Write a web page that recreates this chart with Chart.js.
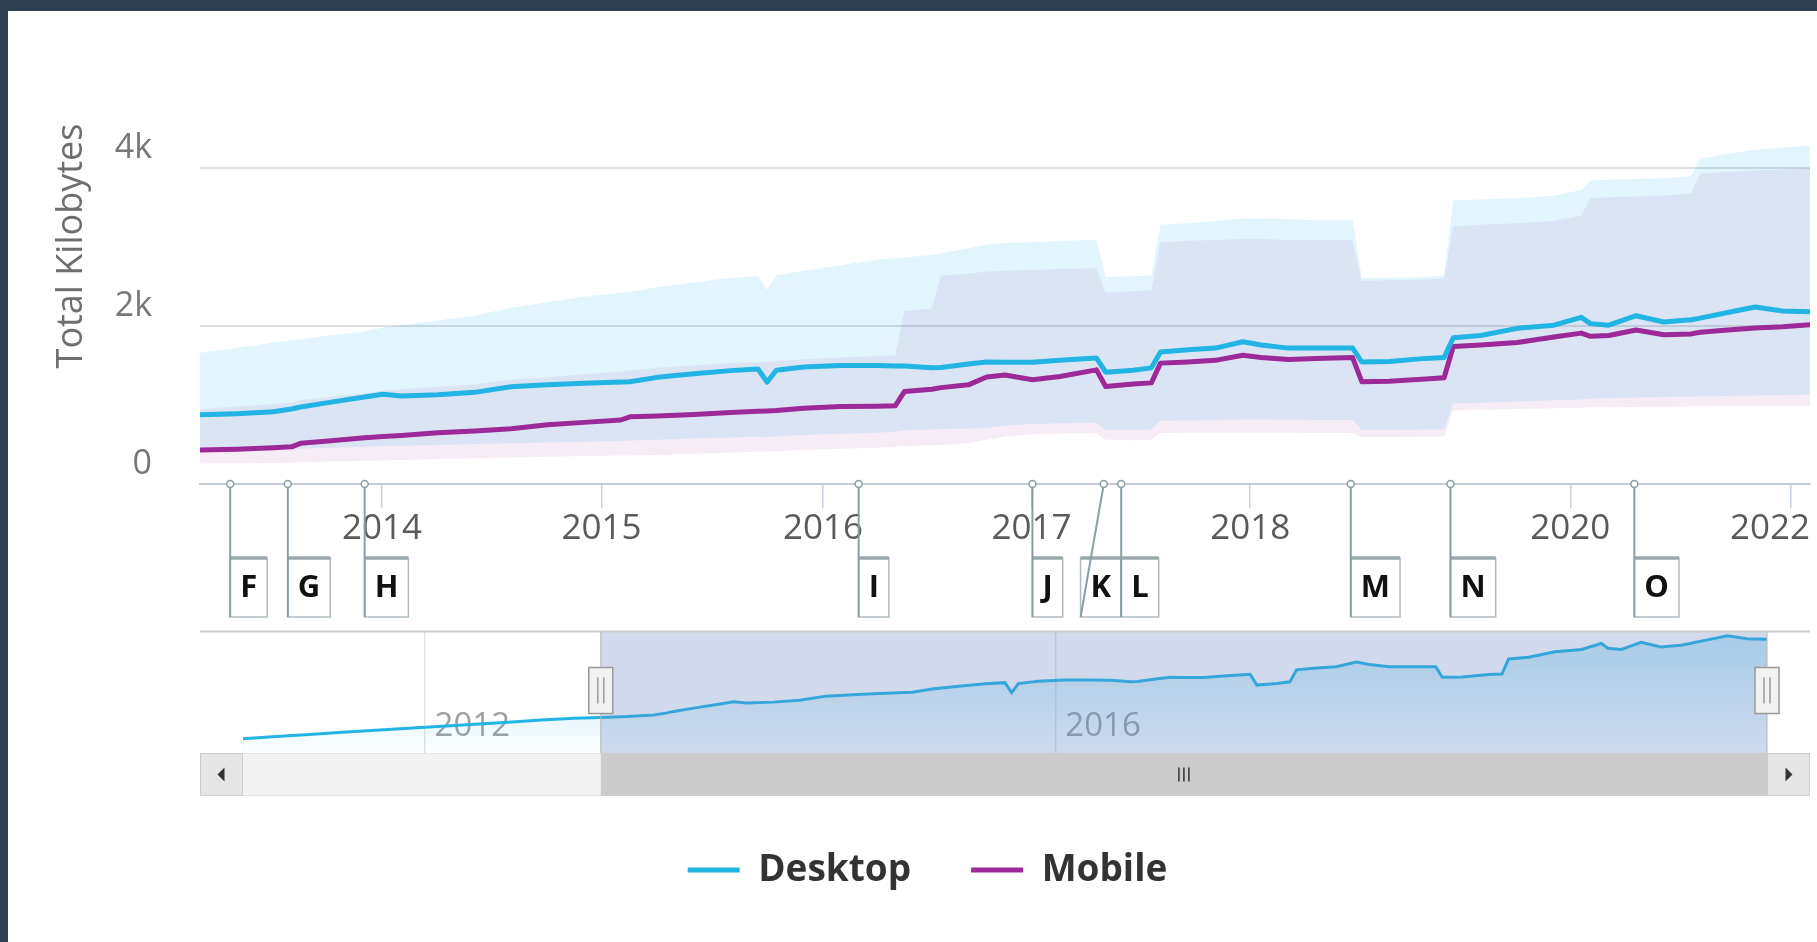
<!DOCTYPE html>
<html><head><meta charset="utf-8">
<script src="https://cdn.jsdelivr.net/npm/chart.js@4.4.1/dist/chart.umd.min.js"></script>
<style>
html,body{margin:0;padding:0;width:1817px;height:942px;overflow:hidden;background:#fff;}
#barTop{position:absolute;left:0;top:0;width:1817px;height:11px;background:#2d3e50;}
#barLeft{position:absolute;left:0;top:0;width:8px;height:942px;background:#2d3e50;}
#main{position:absolute;left:0;top:0;width:1817px;height:942px;}
#nav{position:absolute;left:0;top:620px;width:1817px;height:190px;}
</style></head><body>
<div id="barTop"></div><div id="barLeft"></div>
<canvas id="main" width="1817" height="942"></canvas>
<canvas id="nav" width="1817" height="190"></canvas>
<script>
// ---- data (x = crawl index on the ordinal time axis) ----
const crawlIdx = [0,5,10,15,20,25,30,35,40,45,50,
  54,58,62,64,65,68,72,74,76,80,84,88,92,96,100,101,104,108,112,115,116,117,120,124,128,130,131,134,135,138,
  140,142,145,148,152,153,156,158,159,162,165,168,170,173,176,180,181,184,188,190,191,194,198,202,205,206,208,
  211,214,217,218,221,224,227,230];
const N0 = [null,null,null,null,null,null,null,null,null,null,null];
const desktop = [520,555,590,625,660,695,725,760,795,830,860,
  875,890,915,950,975,1030,1100,1135,1115,1130,1160,1230,1255,1275,1290,1295,1350,1395,1435,1455,1290,1440,1480,1500,1500,1495,1495,1470,1475,1520,
  1545,1540,1540,1565,1595,1415,1440,1470,1670,1700,1720,1800,1760,1720,1720,1720,1545,1550,1590,1600,1850,1880,1970,2010,2110,2030,2010,
  2130,2050,2080,2100,2170,2240,2190,2180];
const mobile = N0.concat([
  430,440,460,470,515,545,585,600,615,650,670,700,750,780,810,850,860,880,905,920,925,930,960,980,985,990,1170,1200,1220,1255,
  1355,1380,1320,1360,1445,1235,1265,1280,1530,1545,1565,1630,1600,1575,1590,1600,1295,1300,1330,1345,1740,1760,1790,1860,1910,1870,1880,
  1950,1890,1900,1920,1950,1975,1990,2015]);
const desktopHigh = N0.concat([
  1660,1720,1790,1820,1830,1880,1930,1980,2010,2070,2130,2230,2300,2370,2420,2430,2490,2550,2610,2630,2460,2640,2700,2770,2840,2860,2870,2900,2920,2980,
  3030,3050,3060,3080,3090,2620,2630,2640,3280,3300,3330,3360,3360,3350,3340,3340,2610,2610,2620,2640,3590,3600,3620,3650,3720,3840,3850,
  3860,3870,3900,4120,4180,4230,4260,4280]);
const desktopLow = N0.concat([
  420,425,430,440,445,460,470,480,485,495,505,515,525,535,545,550,560,575,590,600,590,605,620,635,650,660,680,690,695,700,
  710,740,760,770,775,685,685,690,800,805,810,815,815,812,810,810,685,685,690,690,1020,1030,1045,1060,1070,1080,1085,
  1095,1100,1105,1110,1115,1120,1125,1130]);
const mobileHigh = N0.concat([
  950,980,1010,1030,1060,1100,1150,1180,1200,1230,1260,1320,1350,1390,1420,1440,1470,1500,1530,1545,1550,1555,1580,1600,1620,1630,2190,2220,2640,2660,
  2690,2700,2710,2720,2730,2420,2440,2450,3060,3080,3090,3100,3100,3090,3090,3090,2570,2580,2590,2600,3260,3280,3300,3330,3400,3620,3630,
  3640,3650,3680,3930,3950,3970,3980,4000]);
const mobileLow = N0.concat([
  260,262,265,270,275,285,295,300,305,315,325,335,345,355,360,362,367,380,400,410,410,415,430,445,460,470,480,490,495,520,
  560,600,630,640,645,560,555,560,645,648,650,650,650,648,645,645,595,595,597,600,935,940,950,960,965,970,972,
  975,978,980,982,985,985,985,985]);

const viewRange = [54, 230];
const yearTickIdx = [73.9, 97.9, 122.1, 144.9, 168.8, 203.8, 227.9];
const yearTickLabels = ['2014','2015','2016','2017','2018','2020','2022'];
const yTickVals = [0, 2000, 4000];
const yTickLabels = ['0','2k','4k'];
const navTickIdx = [27.4, 122.6];
const navTickLabels = ['2012','2016'];
const flagIdx = [57.3, 63.6, 72.0, 126.0, 145.0, 152.8, 154.7, 179.8, 190.7, 210.8];
const flagLabels = ['F','G','H','I','J','K','L','M','N','O'];
const seriesNames = ['Desktop','Mobile'];

// ---- styles ----
const C_DESK = '#22b5e4';
const C_MOB = '#9c2997';
Chart.defaults.font.family = "'Open Sans', sans-serif";

const pts = arr => crawlIdx.map((x, i) => ({x, y: arr[i]}));

const flagPlugin = {
  id: 'flags',
  afterDatasetsDraw(chart) {
    const {ctx, chartArea, scales: {x}} = chart;
    const base = chartArea.bottom;
    ctx.save();
    ctx.font = "bold 31px 'Open Sans', sans-serif";
    const boxes = flagIdx.map((v, i) => {
      const ax = x.getPixelForValue(v);
      const w = ctx.measureText(flagLabels[i]).width + 20;
      return {ax, left: ax, w, t: flagLabels[i]};
    });
    for (let i = boxes.length - 2; i >= 0; i--) {
      if (boxes[i].left + boxes[i].w > boxes[i + 1].left) boxes[i].left = boxes[i + 1].left - boxes[i].w;
    }
    const top = base + 74, bot = base + 133;
    boxes.forEach(b => {
      ctx.fillStyle = '#fff';
      ctx.fillRect(b.left, top, b.w, bot - top);
      ctx.strokeStyle = '#aebbc0'; ctx.lineWidth = 1.5;
      ctx.strokeRect(b.left, top, b.w, bot - top);
      ctx.strokeStyle = '#9aa8ad'; ctx.lineWidth = 3.5;
      ctx.beginPath(); ctx.moveTo(b.left, top); ctx.lineTo(b.left + b.w, top); ctx.stroke();
      ctx.strokeStyle = '#8a9ea6'; ctx.lineWidth = 2;
      ctx.beginPath(); ctx.moveTo(b.ax, base); ctx.lineTo(b.left, bot); ctx.stroke();
      ctx.fillStyle = '#111'; ctx.textAlign = 'center'; ctx.textBaseline = 'middle';
      ctx.fillText(b.t, b.left + b.w / 2, (top + bot) / 2 + 1);
      ctx.beginPath(); ctx.arc(b.ax, base, 3.5, 0, Math.PI * 2);
      ctx.fillStyle = '#fff'; ctx.fill();
      ctx.strokeStyle = '#8a9ea6'; ctx.lineWidth = 1.5; ctx.stroke();
    });
    ctx.restore();
  }
};

// keep edge tick labels inside the plot (label overflow justify)
const justifyPlugin = {
  id: 'justify',
  beforeDraw(chart) {
    const s = chart.scales.x;
    const items = s.getLabelItems(chart.chartArea);
    const ctx = chart.ctx;
    ctx.save();
    items.forEach(it => {
      ctx.font = it.font.string;
      const w = ctx.measureText(it.label).width;
      const t = it.options.translation;
      if (it.options.textAlign === 'center' && t[0] + w / 2 > chart.chartArea.right) t[0] = chart.chartArea.right - w / 2;
    });
    ctx.restore();
  }
};

new Chart(document.getElementById('main'), {
  type: 'line',
  data: {
    datasets: [
      {label: seriesNames[0], data: pts(desktop), borderColor: C_DESK, backgroundColor: C_DESK, borderWidth: 5, pointRadius: 0, fill: false, borderJoinStyle: 'round'},
      {label: seriesNames[1], data: pts(mobile), borderColor: C_MOB, backgroundColor: C_MOB, borderWidth: 5, pointRadius: 0, fill: false, borderJoinStyle: 'round'},
      {label: 'Desktop range', data: pts(desktopHigh), borderWidth: 0, pointRadius: 0, fill: '+1', backgroundColor: 'rgba(34,181,228,0.13)'},
      {label: 'Desktop low', data: pts(desktopLow), borderWidth: 0, pointRadius: 0, fill: false},
      {label: 'Mobile range', data: pts(mobileHigh), borderWidth: 0, pointRadius: 0, fill: '+1', backgroundColor: 'rgba(156,41,151,0.09)'},
      {label: 'Mobile low', data: pts(mobileLow), borderWidth: 0, pointRadius: 0, fill: false}
    ]
  },
  options: {
    responsive: false, animation: false,
    layout: {padding: {top: 8, right: 7, bottom: 43.5, left: 45}},
    plugins: {
      tooltip: {enabled: false},
      legend: {
        position: 'bottom',
        labels: {
          boxWidth: 52, boxHeight: 5, padding: 60, color: '#333',
          font: {size: 37, weight: 'bold'},
          generateLabels(chart) {
            const items = Chart.defaults.plugins.legend.labels.generateLabels(chart);
            items.forEach(it => { it.lineWidth = 0; });
            return items;
          },
          filter: item => item.datasetIndex < 2
        }
      }
    },
    scales: {
      x: {
        type: 'linear', min: viewRange[0], max: viewRange[1],
        afterBuildTicks: s => { s.ticks = yearTickIdx.map(v => ({value: v})); },
        afterFit: s => { s.height = 307.5; s.paddingLeft = 0; s.paddingRight = 0; },
        grid: {drawOnChartArea: false, drawTicks: true, tickLength: 24, color: '#c9d3df', lineWidth: 1.5},
        border: {display: true, color: '#c4ccd6', width: 2},
        ticks: {autoSkip: false, maxRotation: 0, padding: 0, color: '#5a5a5a', font: {size: 35},
          callback: (v, i) => yearTickLabels[i]}
      },
      y: {
        min: 0, max: 6025,
        afterBuildTicks: s => { s.ticks = yTickVals.map(v => ({value: v})); },
        afterFit: s => { s.width = 155; s.paddingTop = 0; s.paddingBottom = 0; },
        grid: {color: '#dedede', lineWidth: 2, drawTicks: false},
        border: {display: false},
        ticks: {padding: 48, labelOffset: -20, color: '#777', font: {size: 34},
          callback: (v, i) => yTickLabels[i]},
        title: {display: true, text: 'Total Kilobytes', color: '#6e6e6e', font: {size: 36},
          padding: {top: 5.4, bottom: 0}}
      }
    }
  },
  plugins: [flagPlugin, justifyPlugin]
});

const navPlugin = {
  id: 'navigator',
  afterDatasetsDraw(chart) {
    const {ctx, chartArea: a, scales: {x}} = chart;
    const l = x.getPixelForValue(viewRange[0]), r = x.getPixelForValue(viewRange[1]);
    ctx.save();
    ctx.fillStyle = 'rgba(102,133,194,0.3)';
    ctx.fillRect(l, a.top, r - l, a.bottom - a.top);
    ctx.restore();
  },
  afterDraw(chart) {
    const {ctx, chartArea: a, scales: {x}} = chart;
    const L = a.left - 43, R = a.right + 43;
    const l = x.getPixelForValue(viewRange[0]), r = x.getPixelForValue(viewRange[1]);
    ctx.save();
    // outline
    ctx.strokeStyle = '#cccccc'; ctx.lineWidth = 2;
    ctx.beginPath(); ctx.moveTo(L, a.top); ctx.lineTo(R, a.top); ctx.stroke();
    ctx.strokeStyle = '#b5b5b5'; ctx.lineWidth = 1;
    [l, r].forEach(px => { ctx.beginPath(); ctx.moveTo(px, a.top); ctx.lineTo(px, a.bottom); ctx.stroke(); });
    // scrollbar
    const sy = a.bottom, sh = 43;
    ctx.fillStyle = '#f2f2f2'; ctx.fillRect(L, sy, R - L, sh);
    ctx.strokeStyle = '#e4e4e4'; ctx.lineWidth = 1; ctx.strokeRect(L + 0.5, sy + 0.5, R - L - 1, sh - 1);
    ctx.fillStyle = '#cccccc'; ctx.fillRect(l, sy, r - l, sh);
    [[L, -1], [R - 43, 1]].forEach(([bx, dir]) => {
      ctx.fillStyle = '#e6e6e6'; ctx.fillRect(bx, sy, 43, sh);
      ctx.strokeStyle = '#cccccc'; ctx.strokeRect(bx + 0.5, sy + 0.5, 42, sh - 1);
      const cx = bx + 21.5, cy = sy + sh / 2;
      ctx.fillStyle = '#333';
      ctx.beginPath();
      ctx.moveTo(cx + dir * 4, cy); ctx.lineTo(cx - dir * 3, cy - 7); ctx.lineTo(cx - dir * 3, cy + 7); ctx.closePath();
      ctx.fill();
    });
    const gx = (l + r) / 2, gy = sy + sh / 2;
    ctx.strokeStyle = '#333'; ctx.lineWidth = 1.5;
    [-5, 0, 5].forEach(d => { ctx.beginPath(); ctx.moveTo(gx + d, gy - 7); ctx.lineTo(gx + d, gy + 7); ctx.stroke(); });
    // handles
    [l, r].forEach(px => {
      const hy = a.top + 36, hh = 46;
      ctx.fillStyle = '#f2f2f2'; ctx.fillRect(px - 12, hy, 24, hh);
      ctx.strokeStyle = '#999'; ctx.lineWidth = 1.5; ctx.strokeRect(px - 12, hy, 24, hh);
      [-3, 3].forEach(d => { ctx.beginPath(); ctx.moveTo(px + d, hy + 10); ctx.lineTo(px + d, hy + hh - 10); ctx.stroke(); });
    });
    ctx.restore();
  }
};

new Chart(document.getElementById('nav'), {
  type: 'line',
  data: {
    datasets: [{
      label: seriesNames[0], data: pts(desktop), borderColor: C_DESK, borderWidth: 3, pointRadius: 0,
      fill: 'start',
      backgroundColor: (c) => {
        const ch = c.chart; const a = ch.chartArea;
        if (!a) return 'rgba(34,181,228,0.1)';
        const g = ch.ctx.createLinearGradient(0, a.top, 0, a.bottom);
        g.addColorStop(0, 'rgba(34,181,228,0.28)');
        g.addColorStop(1, 'rgba(34,181,228,0.02)');
        return g;
      }
    }]
  },
  options: {
    responsive: false, animation: false,
    layout: {padding: {top: 11.5, left: 243, right: 50, bottom: 57}},
    plugins: {legend: {display: false}, tooltip: {enabled: false}},
    scales: {
      x: {
        type: 'linear', min: 0, max: 230,
        position: {y: 1045},
        afterBuildTicks: s => { s.ticks = navTickIdx.map(v => ({value: v})); },
        afterFit: s => { s.height = 50; s.paddingLeft = 0; s.paddingRight = 0; },
        grid: {drawTicks: false, color: '#e3e3e3', lineWidth: 1.5},
        border: {display: false},
        ticks: {align: 'start', labelOffset: 10, padding: 0, color: '#a0a0a0', font: {size: 33},
          autoSkip: false, maxRotation: 0, callback: (v, i) => navTickLabels[i]}
      },
      y: {display: false, min: 280, max: 2310}
    }
  },
  plugins: [navPlugin]
});
</script>
</body></html>
